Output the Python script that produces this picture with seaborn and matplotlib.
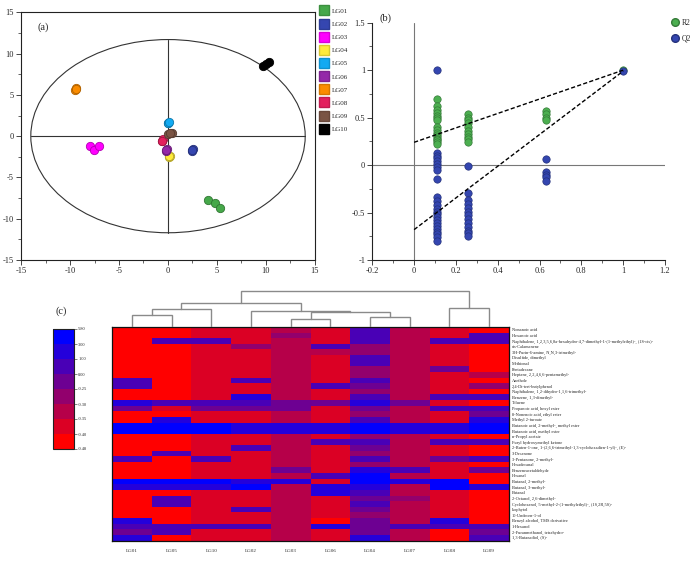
import numpy as np
import pandas as pd
import matplotlib
matplotlib.use("Agg")
import matplotlib.pyplot as plt
import seaborn as sns
from matplotlib.colors import ListedColormap, BoundaryNorm, to_rgb
from matplotlib.cm import ScalarMappable
from matplotlib.lines import Line2D
from matplotlib.patches import Ellipse
from matplotlib.ticker import MultipleLocator, FuncFormatter

# ---------------- (a) PCA score plot ----------------
groups = ["LG01", "LG02", "LG03", "LG04", "LG05", "LG06", "LG07", "LG08", "LG09", "LG10"]
group_colors = ["#46A84A", "#3546B0", "#FF00FF", "#FFEB3B", "#12AAF2", "#9428A8",
                "#FB8C00", "#E3205E", "#7A5444", "#000000"]
pca_group = ["LG01"] * 3 + ["LG02"] * 3 + ["LG03"] * 3 + ["LG04"] * 3 + ["LG05"] * 3 + \
            ["LG06"] * 3 + ["LG07"] * 3 + ["LG08"] * 3 + ["LG09"] * 3 + ["LG10"] * 3
pca_t1 = [4.13, 4.81, 5.32,   2.43, 2.60, 2.50,   -7.93, -7.52, -7.01,   0.12, 0.20, 0.08,
          -0.02, 0.05, 0.08,  -0.22, -0.15, -0.25, -9.46, -9.36, -9.42,  -0.66, -0.55, -0.62,
          -0.05, 0.39, 0.25,  9.74, 10.28, 9.95]
pca_t2 = [-7.70, -8.05, -8.74, -1.75, -1.50, -1.65, -1.15, -1.67, -1.20, -2.56, -2.35, -2.45,
          1.64, 1.55, 1.70,  -1.75, -1.60, -1.70,  5.60, 5.80, 5.70,  -0.54, -0.40, -0.60,
          0.22, 0.43, 0.35,  8.50, 9.02, 8.70]
ellipse_half_width = 14.0
ellipse_half_height = 11.7

# ---------------- (b) permutation test ----------------
r2_x = [0.11] * 16 + [0.26] * 10 + [0.63] * 4 + [1.0]
r2_y = [0.70, 0.62, 0.58, 0.55, 0.52, 0.50, 0.48, 0.40, 0.37, 0.34, 0.32, 0.30, 0.28, 0.26, 0.24, 0.22,
        0.54, 0.50, 0.47, 0.44, 0.40, 0.36, 0.33, 0.30, 0.27, 0.24,
        0.57, 0.54, 0.50, 0.47,
        1.00]
q2_x = [0.11] * 24 + [0.26] * 13 + [0.63] * 5 + [1.0]
q2_y = [1.00, 0.13, 0.10, 0.07, 0.04, 0.01, -0.02, -0.05, -0.15, -0.34, -0.38, -0.42, -0.46, -0.49,
        -0.52, -0.55, -0.58, -0.61, -0.64, -0.67, -0.70, -0.73, -0.76, -0.80,
        -0.01, -0.29, -0.37, -0.41, -0.45, -0.49, -0.53, -0.57, -0.61, -0.65, -0.69, -0.72, -0.75,
        0.06, -0.07, -0.10, -0.13, -0.17,
        0.99]
r2_intercept = 0.24
q2_intercept = -0.68

# ---------------- (c) heatmap ----------------
compounds = [
    "Nonanoic acid", "Hexanoic acid",
    "Naphthalene, 1,2,3,5,6,8a-hexahydro-4,7-dimethyl-1-(1-methylethyl)-, (1S-cis)-",
    "cis-Calamenene", "3H-Purin-6-amine, N,N,3-trimethyl-", "Disulfide, dimethyl", "Methional",
    "Pentadecane", "Heptane, 2,2,4,6,6-pentamethyl-", "Anethole", "2,4-Di-tert-butylphenol",
    "Naphthalene, 1,2-dihydro-1,1,6-trimethyl-", "Benzene, 1,3-dimethyl-", "Toluene",
    "Propanoic acid, hexyl ester", "8-Nonenoic acid, ethyl ester", "Methyl 2-furoate",
    "Butanoic acid, 2-methyl-, methyl ester", "Butanoic acid, methyl ester", "n-Propyl acetate",
    "Furyl hydroxymethyl ketone",
    "2-Buten-1-one, 1-(2,6,6-trimethyl-1,3-cyclohexadien-1-yl)-, (E)-",
    "3-Decanone", "3-Pentanone, 2-methyl-", "Hexadecanal", "Benzeneacetaldehyde", "Hexanal",
    "Butanal, 2-methyl-", "Butanal, 3-methyl-", "Butanal", "2-Octanol, 2,6-dimethyl-",
    "Cyclohexanol, 5-methyl-2-(1-methylethyl)-, (1S,2R,5S)-", "Isophytol", "10-Undecen-1-ol",
    "Benzyl alcohol, TMS derivative", "1-Hexanol", "2-Furanmethanol, tetrahydro-",
    "1,3-Butanediol, (S)-",
]
# colour class read for each cell (0 = lowest band ... 7 = highest band)
hm_LG01 = [0,0,0,0,0,0,0,0,0,5, 5,0,0,6,4,0,0,7,7,0, 0,0,0,5,0,0,0,7,6,0, 0,0,0,0,6,5,4,6]
hm_LG02 = [1,1,1,3,1,1,1,1,1,5, 1,1,6,5,4,1,1,6,6,1, 1,5,1,1,1,1,1,6,7,1, 1,1,5,1,1,5,1,1]
hm_LG03 = [2,3,2,2,2,2,2,2,2,2, 2,2,2,4,4,2,2,6,6,2, 2,2,2,2,2,4,2,6,2,2, 2,2,2,2,2,2,2,2]
hm_LG04 = [5,5,5,3,3,5,5,3,3,5, 4,3,5,6,4,3,5,7,7,3, 5,4,3,5,3,6,7,7,6,5, 4,5,4,3,4,4,4,6]
hm_LG05 = [0,0,5,0,0,0,0,0,0,0, 0,0,0,5,1,0,6,7,7,0, 0,0,5,0,0,0,0,7,6,0, 5,5,0,0,0,5,5,0]
hm_LG06 = [1,1,1,5,2,1,1,1,1,1, 5,1,1,4,1,1,1,6,6,1, 5,1,1,1,1,1,5,1,6,6, 1,1,1,1,0,6,1,1]
hm_LG07 = [2,2,2,2,2,2,2,2,2,2, 2,2,2,4,2,2,2,6,6,2, 2,2,2,2,2,5,2,6,2,2, 3,2,2,2,2,5,2,2]
hm_LG08 = [1,1,5,1,1,1,1,4,1,1, 1,1,5,1,5,1,1,6,6,1, 5,1,1,4,1,1,1,7,7,1, 1,1,1,1,6,5,0,0]
hm_LG09 = [0,5,5,0,0,0,0,0,2,0, 3,0,5,0,5,4,6,7,7,0, 5,0,0,5,0,4,0,0,6,0, 0,0,0,0,0,5,4,5]
hm_LG10 = [1,1,5,1,1,1,1,1,1,1, 1,1,1,5,4,1,1,7,7,1, 1,1,1,5,1,1,1,7,6,1, 1,1,1,1,1,5,1,1]
band_values = [-0.44, -0.375, -0.325, -0.275, -0.12, 0.5, 2.0, 4.4]
bounds = [-0.48, -0.40, -0.35, -0.30, -0.25, 0.00, 1.00, 3.00, 5.80]
bound_labels = ["-0.48", "-0.40", "-0.35", "-0.30", "-0.25", "0.00", "1.00", "3.00", "5.80"]
band_colors = ["#FF0000", "#DB0024", "#B60049", "#92006D", "#6D0092", "#4900B6", "#2400DB", "#0000FF"]

leaf_order = ["LG01", "LG05", "LG10", "LG02", "LG03", "LG06", "LG04", "LG07", "LG08", "LG09"]
# (left, right, height) ; merged nodes referred to as m0, m1, ...
merges = [("LG01", "LG05", 12.7), ("LG03", "LG06", 8.4), ("LG04", "LG07", 10.0),
          ("m0", "LG10", 18.4), ("m1", "m2", 15.2), ("LG02", "m4", 16.0),
          ("m3", "m5", 24.4), ("LG08", "LG09", 19.4), ("m6", "m7", 37.0)]

# ---------------- style ----------------
sns.set_theme(style="ticks")
plt.rcParams["font.family"] = ["Liberation Serif", "DejaVu Serif"]
plt.rcParams["axes.edgecolor"] = "#222222"

W, H = 700, 562
fig = plt.figure(figsize=(W / 100, H / 100), dpi=100)
fig.patch.set_facecolor("white")


def box(l, t, r, b):
    return [l / W, 1 - b / H, (r - l) / W, (b - t) / H]


def darken(c, f=0.7):
    r, g, b = to_rgb(c)
    return (r * f, g * f, b * f)


def fmt(v, pos=None):
    v = round(v, 6)
    if v == 0:
        return "0"
    return f"{v:g}".replace("\u2212", "-")


# ---------------- panel (a) ----------------
ax_a = fig.add_axes(box(21, 12.3, 315, 260))
df_a = pd.DataFrame({"group": pca_group, "t1": pca_t1, "t2": pca_t2})
ax_a.add_patch(Ellipse((0, 0), 2 * ellipse_half_width, 2 * ellipse_half_height,
                       fill=False, ec="#333333", lw=0.8, zorder=1))
ax_a.plot([-ellipse_half_width, ellipse_half_width], [0, 0], color="#333333", lw=0.8, zorder=1)
ax_a.plot([0, 0], [-ellipse_half_height, ellipse_half_height], color="#333333", lw=0.8, zorder=1)
for g, c in zip(groups, group_colors):
    sub = df_a[df_a["group"] == g]
    sns.scatterplot(data=sub, x="t1", y="t2", color=c, edgecolor=darken(c), s=36,
                    linewidth=0.6, ax=ax_a, legend=False, zorder=3)
ax_a.set_xlim(-15, 15)
ax_a.set_ylim(-15, 15)
ax_a.set_xlabel("")
ax_a.set_ylabel("")
for axis in (ax_a.xaxis, ax_a.yaxis):
    axis.set_major_locator(MultipleLocator(5))
    axis.set_minor_locator(MultipleLocator(2.5))
    axis.set_major_formatter(FuncFormatter(fmt))
ax_a.tick_params(which="major", length=3.5, width=0.6, labelsize=6, pad=1.5, direction="out")
ax_a.tick_params(which="minor", length=2, width=0.5, direction="out")
for s in ax_a.spines.values():
    s.set_linewidth(0.8)
ax_a.text(-13.3, 13.2, "(a)", fontsize=7.5, va="center", ha="left")
handles_a = [Line2D([], [], marker="s", linestyle="none", markerfacecolor=c,
                    markeredgecolor=darken(c, 0.85), markersize=7.2) for c in group_colors]
ax_a.legend(handles_a, groups, loc="upper left", bbox_to_anchor=(319 / W, 1 - 8 / H),
            bbox_transform=fig.transFigure, frameon=False, fontsize=5, handletextpad=0.4,
            labelspacing=1.05, borderpad=0, borderaxespad=0, handlelength=1.4)

# ---------------- panel (b) ----------------
ax_b = fig.add_axes(box(372.3, 22.7, 665, 260))
ax_b.axhline(0, color="#777777", lw=0.8, zorder=1)
ax_b.axvline(0, color="#777777", lw=0.8, zorder=1)
df_r2 = pd.DataFrame({"x": r2_x, "y": r2_y})
df_q2 = pd.DataFrame({"x": q2_x, "y": q2_y})
r2_col, q2_col = "#4CAF50", "#3446B0"
sns.scatterplot(data=df_r2, x="x", y="y", color=r2_col, edgecolor=darken(r2_col), s=28,
                linewidth=0.5, ax=ax_b, legend=False, zorder=3)
sns.scatterplot(data=df_q2, x="x", y="y", color=q2_col, edgecolor=darken(q2_col), s=28,
                linewidth=0.5, ax=ax_b, legend=False, zorder=3)
ax_b.plot([0, r2_x[-1]], [r2_intercept, r2_y[-1]], color="black", lw=1.0, ls=(0, (3, 1.6)), zorder=4)
ax_b.plot([0, q2_x[-1]], [q2_intercept, q2_y[-1]], color="black", lw=1.0, ls=(0, (3, 1.6)), zorder=4)
ax_b.set_xlim(-0.2, 1.2)
ax_b.set_ylim(-1, 1.5)
ax_b.set_xlabel("")
ax_b.set_ylabel("")
ax_b.xaxis.set_major_locator(MultipleLocator(0.2))
ax_b.xaxis.set_minor_locator(MultipleLocator(0.1))
ax_b.yaxis.set_major_locator(MultipleLocator(0.5))
ax_b.yaxis.set_minor_locator(MultipleLocator(0.25))
ax_b.xaxis.set_major_formatter(FuncFormatter(fmt))
ax_b.yaxis.set_major_formatter(FuncFormatter(fmt))
ax_b.tick_params(which="major", length=3.5, width=0.6, labelsize=6, pad=1.5, direction="out")
ax_b.tick_params(which="minor", length=2, width=0.5, direction="out")
sns.despine(ax=ax_b)
for s in ("left", "bottom"):
    ax_b.spines[s].set_linewidth(0.8)
ax_b.text(-0.165, 1.545, "(b)", fontsize=7.5, va="center", ha="left", clip_on=False)
handles_b = [Line2D([], [], marker="o", linestyle="none", markerfacecolor=r2_col,
                    markeredgecolor=darken(r2_col), markersize=5.5),
             Line2D([], [], marker="o", linestyle="none", markerfacecolor=q2_col,
                    markeredgecolor=darken(q2_col), markersize=5.5)]
ax_b.legend(handles_b, ["R2", "Q2"], loc="upper left", bbox_to_anchor=(671 / W, 1 - 19 / H),
            bbox_transform=fig.transFigure, frameon=False, fontsize=5.5, handletextpad=0.35,
            labelspacing=0.95, borderpad=0, borderaxespad=0, handlelength=1.0)

# ---------------- panel (c) ----------------
cols = {"LG01": hm_LG01, "LG02": hm_LG02, "LG03": hm_LG03, "LG04": hm_LG04, "LG05": hm_LG05,
        "LG06": hm_LG06, "LG07": hm_LG07, "LG08": hm_LG08, "LG09": hm_LG09, "LG10": hm_LG10}
hm_df = pd.DataFrame({g: [band_values[k] for k in cols[g]] for g in leaf_order}, index=compounds)
cmap = ListedColormap(band_colors)
norm = BoundaryNorm(bounds, cmap.N)

ax_h = fig.add_axes(box(112, 327, 509, 540.5))
sns.heatmap(hm_df, cmap=cmap, norm=norm, cbar=False, ax=ax_h, xticklabels=True, yticklabels=True)
ax_h.yaxis.tick_right()
ax_h.tick_params(axis="y", length=0, labelsize=3.2, pad=2, labelrotation=0)
ax_h.tick_params(axis="x", length=0, labelsize=3.6, pad=6, labelrotation=0)
for s in ax_h.spines.values():
    s.set_visible(True)
    s.set_color("#111111")
    s.set_linewidth(0.9)

ax_d = fig.add_axes(box(112, 289, 509, 327))
pos = {g: i + 0.5 for i, g in enumerate(leaf_order)}
hgt = {g: 0.0 for g in leaf_order}
for i, (a, b, h) in enumerate(merges):
    xa, xb = pos[a], pos[b]
    ax_d.plot([xa, xa, xb, xb], [hgt[a], h, h, hgt[b]], color="#8a8a8a", lw=1.0,
              solid_joinstyle="miter")
    pos[f"m{i}"] = (xa + xb) / 2
    hgt[f"m{i}"] = h
ax_d.set_xlim(0, len(leaf_order))
ax_d.set_ylim(0, 38.8)
ax_d.axis("off")

cax = fig.add_axes(box(53, 329, 74, 449))
cb = fig.colorbar(ScalarMappable(norm=norm, cmap=cmap), cax=cax, ticks=bounds, spacing="uniform")
cb.ax.set_yticklabels(bound_labels)
cb.ax.tick_params(labelsize=3.2, length=2, width=0.4, pad=1)
cb.outline.set_linewidth(0.8)
cb.outline.set_edgecolor("#222222")

fig.text(55 / W, 1 - 311 / H, "(c)", fontsize=7.5, va="center", ha="left")

fig.savefig("out.png", dpi=100, facecolor="white")
